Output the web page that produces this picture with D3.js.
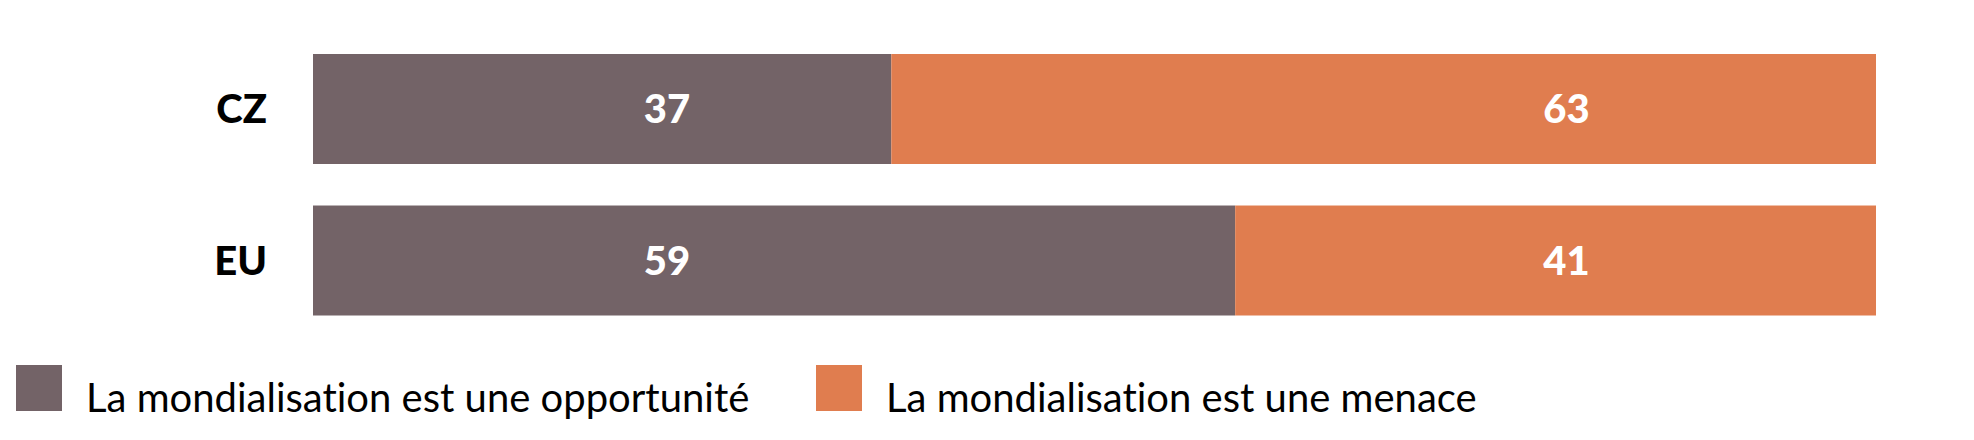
<!DOCTYPE html>
<html>
<head>
<meta charset="utf-8">
<script src="https://cdn.jsdelivr.net/npm/d3@7"></script>
<style>
html,body{margin:0;padding:0;background:#fff;}
svg{display:block;}
text{font-variant-ligatures:none;font-feature-settings:"liga" 0;}
</style>
</head>
<body>
<svg id="chart" width="1974" height="440"></svg>
<script>
const categories = ["CZ", "EU"];
const seriesNames = ["La mondialisation est une opportunité", "La mondialisation est une menace"];
const opportunite = [37, 59];
const menace = [63, 41];
const labelAnchors = [22.65, 80.2];
const colors = ["#736367", "#E07D4F"];

const svg = d3.select("#chart");
const x = d3.scaleLinear().domain([0, 100]).range([313, 1876]);
const y = d3.scaleBand().domain(categories).range([54, 315.5]).paddingInner(0.274).paddingOuter(0);

const rows = categories.map((c, i) => ({cat: c, vals: [opportunite[i], menace[i]]}));
const stack = d3.stack().keys([0, 1]).value((d, k) => d.vals[k]);
const stacked = stack(rows);

const font = "Lato, 'Open Sans', sans-serif";

stacked.forEach((layer, si) => {
  const g = svg.append("g");
  g.selectAll("rect").data(layer).join("rect")
    .attr("x", d => x(d[0]))
    .attr("y", d => y(d.data.cat))
    .attr("width", d => x(d[1]) - x(d[0]))
    .attr("height", y.bandwidth())
    .attr("fill", colors[si]);
  g.selectAll("text").data(layer).join("text")
    .attr("x", x(labelAnchors[si]))
    .attr("y", d => y(d.data.cat) + y.bandwidth() / 2)
    .attr("dy", "0.36em")
    .attr("text-anchor", "middle")
    .attr("fill", "#fff")
    .attr("font-family", font)
    .attr("font-weight", 900)
    .attr("font-size", 40)
    .text(d => d.data.vals[si]);
});

const yAxis = d3.axisLeft(y).tickSize(0).tickPadding(0);
const ax = svg.append("g").attr("transform", "translate(267,0)").call(yAxis);
ax.select(".domain").remove();
ax.selectAll("text")
  .attr("font-family", font)
  .attr("font-weight", 900)
  .attr("font-size", 40)
  .attr("fill", "#000")
  .attr("dy", "0.36em");

// legend
const legendX = [16, 816];
const leg = svg.append("g");
seriesNames.forEach((name, i) => {
  leg.append("rect")
    .attr("x", legendX[i]).attr("y", 365)
    .attr("width", 46).attr("height", 46)
    .attr("fill", colors[i]);
  leg.append("text")
    .attr("x", legendX[i] + 70).attr("y", 412)
    .attr("font-family", font)
    .attr("font-size", 40)
    .attr("fill", "#000")
    .text(name);
});
</script>
</body>
</html>
